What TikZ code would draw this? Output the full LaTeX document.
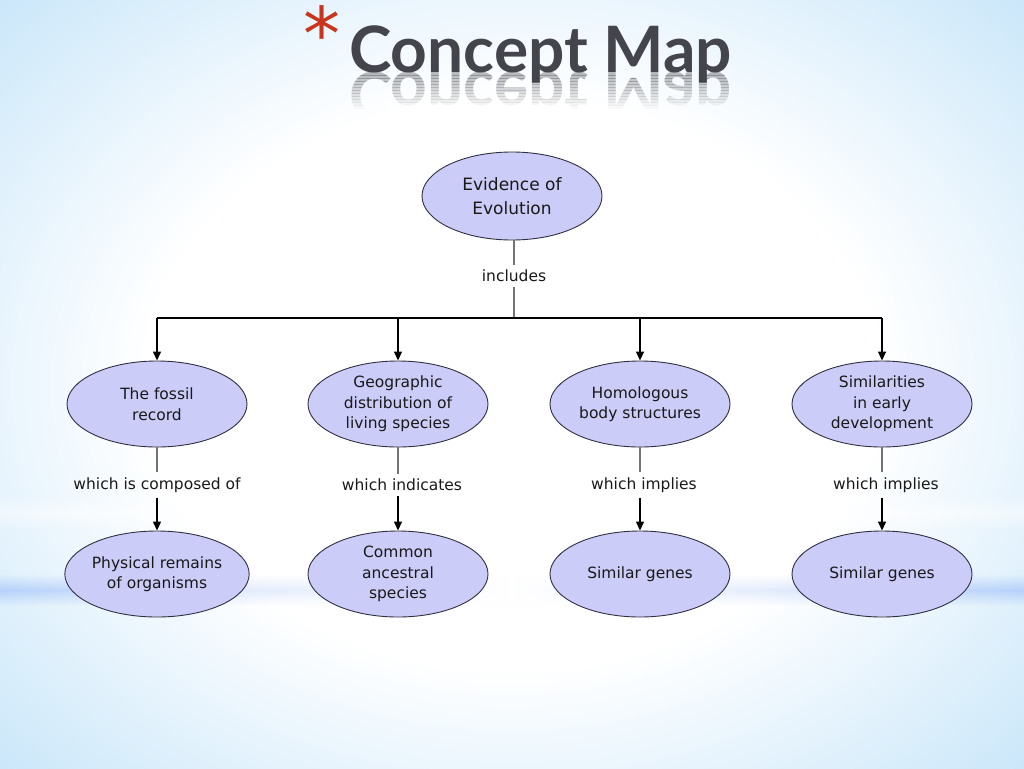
\documentclass[tikz,border=0pt]{standalone}
\usepackage{fontspec}
\setmainfont{DejaVu Sans}
\newfontfamily\titlefont{Lato}
\newfontfamily\astfont{DejaVu Sans}
\usetikzlibrary{shapes.geometric,arrows.meta,fadings}
\definecolor{bgblue}{HTML}{A6D6F6}
\definecolor{nodefill}{HTML}{CCCCF8}
\definecolor{nodeline}{HTML}{303040}
\definecolor{titlegray}{HTML}{44444C}
\definecolor{astred}{HTML}{C8341C}
\pgfdeclareradialshading{bgshade}{\pgfpoint{0bp}{0bp}}{color(0bp)=(white); color(16bp)=(white); color(34bp)=(bgblue!70!white); color(50bp)=(bgblue); color(70bp)=(bgblue)}
\tikzfading[name=vband, top color=transparent!100, bottom color=transparent!100, middle color=transparent!0]
\tikzset{
  concept/.style={ellipse, draw=nodeline, line width=0.9pt, fill=nodefill,
    minimum width=180pt, minimum height=86pt, inner sep=0pt, align=center,
    font=\fontsize{15.5}{20.5}\selectfont, text=black!90},
  linklabel/.style={inner sep=5pt, font=\fontsize{15.5}{20}\selectfont, text=black!90},
  upline/.style={draw=black!55, line width=1.2pt},
  arrowline/.style={draw=black, line width=1.3pt, -{Triangle[length=9pt,width=8pt]}},
  barline/.style={draw=black, line width=1.3pt},
  titletext/.style={anchor=base west, inner sep=0pt, text=titlegray, font=\titlefont\bfseries\fontsize{64}{64}\selectfont}
}
\begin{document}
\begin{tikzpicture}[x=1pt,y=-1pt]
\useasboundingbox (0,0) rectangle (1024,768);
\shade[shading=bgshade] (-60,-60) rectangle (1084,828);
% faint horizontal bands
\shade[left color=white, right color=white, middle color=white, opacity=0.5, path fading=vband] (0,496) rectangle (1024,530);
\shade[left color=bgblue!80!blue, right color=bgblue!80!blue, middle color=white, opacity=0.45, path fading=vband] (0,574) rectangle (1024,606);

% title
\node[anchor=base west, inner sep=0pt, text=astred, font=\astfont\fontsize{74}{74}\selectfont] (ast) at (303,60) {*};
\node[titletext] (title) at (349,72) {Concept Map};
\foreach \i in {0,...,11} {
  \begin{scope}
    \clip (330,72+3*\i) rectangle (760,75+3*\i);
    \node[titletext, opacity={0.36*(1-\i/12)}, yscale=-1] (refl\i) at (349,72) {Concept Map};
  \end{scope}
}

% nodes
\node[concept, minimum height=88pt, font=\fontsize{17}{24}\selectfont] (top) at (512,196) {Evidence of\\Evolution};
\node[linklabel] (inc) at (514,276) {includes};

\node[concept] (a1) at (157,404) {The fossil\\record};
\node[concept] (b1) at (398,404) {Geographic\\distribution of\\living species};
\node[concept] (c1) at (640,404) {Homologous\\body structures};
\node[concept] (d1) at (882,404) {Similarities\\in early\\development};

\node[linklabel] (la) at (157,485) {which is composed of};
\node[linklabel] (lb) at (402,485) {which indicates};
\node[linklabel] (lc) at (644,485) {which implies};
\node[linklabel] (ld) at (886,485) {which implies};

\node[concept] (a2) at (157,574) {Physical remains\\of organisms};
\node[concept] (b2) at (398,574) {Common\\ancestral\\species};
\node[concept] (c2) at (640,574) {Similar genes};
\node[concept] (d2) at (882,574) {Similar genes};

% connectors
\coordinate (hm) at (514,318);
\coordinate (ha) at (157,318);
\coordinate (hb) at (398,318);
\coordinate (hc) at (640,318);
\coordinate (hd) at (882,318);

\draw[upline] (top.south -| inc) -- (inc.north);
\draw[upline] (inc.south) -- (hm);
\draw[barline] (ha) -- (hd);
\draw[arrowline] (ha) -- (a1.north);
\draw[arrowline] (hb) -- (b1.north);
\draw[arrowline] (hc) -- (c1.north);
\draw[arrowline] (hd) -- (d1.north);

\draw[upline] (a1.south) -- (la.north -| a1);
\draw[upline] (b1.south) -- (lb.north -| b1);
\draw[upline] (c1.south) -- (lc.north -| c1);
\draw[upline] (d1.south) -- (ld.north -| d1);

\draw[arrowline] (la.south -| a1) -- (a2.north);
\draw[arrowline] (lb.south -| b1) -- (b2.north);
\draw[arrowline] (lc.south -| c1) -- (c2.north);
\draw[arrowline] (ld.south -| d1) -- (d2.north);
\end{tikzpicture}
\end{document}
